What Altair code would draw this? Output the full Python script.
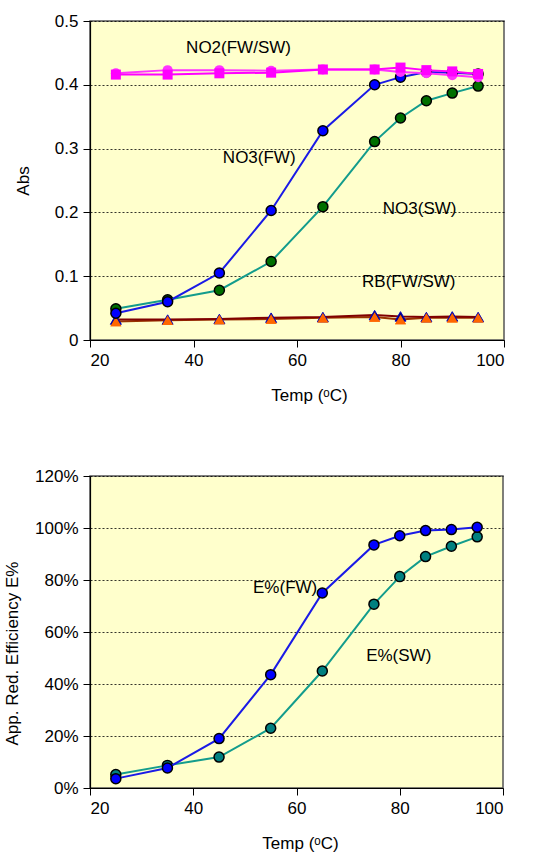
import altair as alt
import pandas as pd

# ---------------- data ----------------
temps = [25, 35, 45, 55, 65, 75, 80, 85, 90, 95]

no2_fw = [0.416, 0.416, 0.418, 0.419, 0.424, 0.424, 0.427, 0.423, 0.421, 0.417]
no2_sw = [0.418, 0.423, 0.423, 0.422, 0.424, 0.424, 0.420, 0.418, 0.415, 0.412]
no3_fw = [0.042, 0.060, 0.105, 0.203, 0.328, 0.400, 0.412, 0.420, 0.419, 0.417]
no3_sw = [0.049, 0.063, 0.078, 0.123, 0.209, 0.311, 0.348, 0.375, 0.387, 0.398]
rb_fw = [0.032, 0.032, 0.033, 0.035, 0.036, 0.039, 0.037, 0.036, 0.037, 0.036]
rb_sw = [0.029, 0.031, 0.032, 0.033, 0.035, 0.036, 0.032, 0.035, 0.035, 0.035]

e_fw = [3.6, 7.7, 19.0, 43.6, 75.0, 93.5, 97.0, 99.0, 99.4, 100.3]
e_sw = [5.2, 8.7, 11.9, 23.0, 45.0, 70.7, 81.3, 89.0, 93.0, 96.6]

top_labels = ["NO2(FW/SW)", "NO3(FW)", "NO3(SW)", "RB(FW/SW)"]
top_label_x = [48.7, 52.7, 83.7, 81.6]
top_label_y = [0.458, 0.286, 0.205, 0.091]

bot_labels = ["E%(FW)", "E%(SW)"]
bot_label_x = [57.8, 79.8]
bot_label_y = [77.0, 50.8]

x_ticks = [20, 40, 60, 80, 100]
top_y_ticks = [0, 0.1, 0.2, 0.3, 0.4, 0.5]
bot_y_ticks = [0, 20, 40, 60, 80, 100, 120]

FONT = "Liberation Sans"
FS = 17


def x_enc(title_x):
    return alt.X(
        "t:Q",
        scale=alt.Scale(domain=[20, 100], nice=False, zero=False),
        axis=alt.Axis(
            values=x_ticks, title="Temp (ᵒC)", grid=False,
            titleX=title_x, titleY=55, titleBaseline="middle",
            titleAnchor="start", titleAlign="center",
        ),
    )


def y_top():
    return alt.Y(
        "v:Q",
        scale=alt.Scale(domain=[0, 0.5], nice=False),
        axis=alt.Axis(
            values=top_y_ticks, title="Abs",
            labelExpr="datum.value == 0 ? '0' : format(datum.value, '.1f')",
            titleX=-67, titleBaseline="middle",
        ),
    )


def y_bot():
    return alt.Y(
        "v:Q",
        scale=alt.Scale(domain=[0, 120], nice=False),
        axis=alt.Axis(
            values=bot_y_ticks, title="App. Red. Efficiency E%",
            labelExpr="datum.value + '%'",
            titleX=-78, titleY=177, titleBaseline="middle",
        ),
    )


def series(vals, xenc, yenc, line_color, shape, fill, stroke, size, sw=1.5):
    df = pd.DataFrame({"t": temps, "v": vals})
    base = alt.Chart(df).encode(x=xenc, y=yenc)
    line = base.mark_line(color=line_color, strokeWidth=2)
    pts = base.mark_point(
        shape=shape, filled=True, fill=fill, stroke=stroke,
        strokeWidth=sw, size=size, opacity=1,
    )
    return [line, pts]


xt = x_enc(219)
yt = y_top()
top_layers = []
top_layers += series(rb_sw, xt, yt, "#993300", "triangle-up", "#FF6600", "#FF6600", 120, 0)
top_layers += series(rb_fw, xt, yt, "#800000", "triangle-up", "#000080", "#0000C0", 120, 1)
top_layers.append(
    alt.Chart(pd.DataFrame({"t": temps, "v": rb_sw})).encode(x=xt, y=yt).mark_point(
        shape="triangle-up", filled=True, fill="#FF6600", strokeWidth=0, size=120, opacity=1
    )
)
top_layers += series(no3_sw, xt, yt, "#139C8C", "circle", "#006F00", "black", 100)
top_layers += series(no3_fw, xt, yt, "#1A1AE6", "circle", "#0000FF", "black", 100)
top_layers += series(no2_sw, xt, yt, "#FF33FF", "circle", "#FF33FF", "#FF33FF", 100, 0)
top_layers += series(no2_fw, xt, yt, "#FF00FF", "square", "#FF00FF", "#FF00FF", 100, 0)

top_text = alt.Chart(
    pd.DataFrame({"t": top_label_x, "v": top_label_y, "label": top_labels})
).mark_text(font=FONT, fontSize=FS, color="black", align="center", baseline="middle").encode(
    x=xt, y=yt, text="label:N"
)

top = alt.layer(*top_layers, top_text).properties(width=414, height=319)

xb = x_enc(210)
yb = y_bot()
bot_layers = []
bot_layers += series(e_sw, xb, yb, "#139C8C", "circle", "#008080", "black", 100)
bot_layers += series(e_fw, xb, yb, "#1A1AE6", "circle", "#0000FF", "black", 100)
bot_text = alt.Chart(
    pd.DataFrame({"t": bot_label_x, "v": bot_label_y, "label": bot_labels})
).mark_text(font=FONT, fontSize=FS, color="black", align="center", baseline="middle").encode(
    x=xb, y=yb, text="label:N"
)
bot = alt.layer(*bot_layers, bot_text).properties(width=413, height=312)

chart = (
    alt.vconcat(top, bot, spacing=62)
    .properties(padding={"left": 2, "top": 11, "right": 5, "bottom": 0}, background="white")
    .configure_view(fill="#FFFFCC", stroke="#555555", strokeWidth=1.5)
    .configure_axis(
        labelFont=FONT, titleFont=FONT, labelFontSize=FS, titleFontSize=FS,
        titleFontWeight="normal", labelColor="black", titleColor="black",
        domainColor="black", domainWidth=1.2, tickColor="black", tickSize=7,
        labelPadding=5, gridColor="black", gridDash=[2, 2], gridWidth=0.8,
    )
)

chart.save("out.html", embed_options={"renderer": "svg", "actions": False})
